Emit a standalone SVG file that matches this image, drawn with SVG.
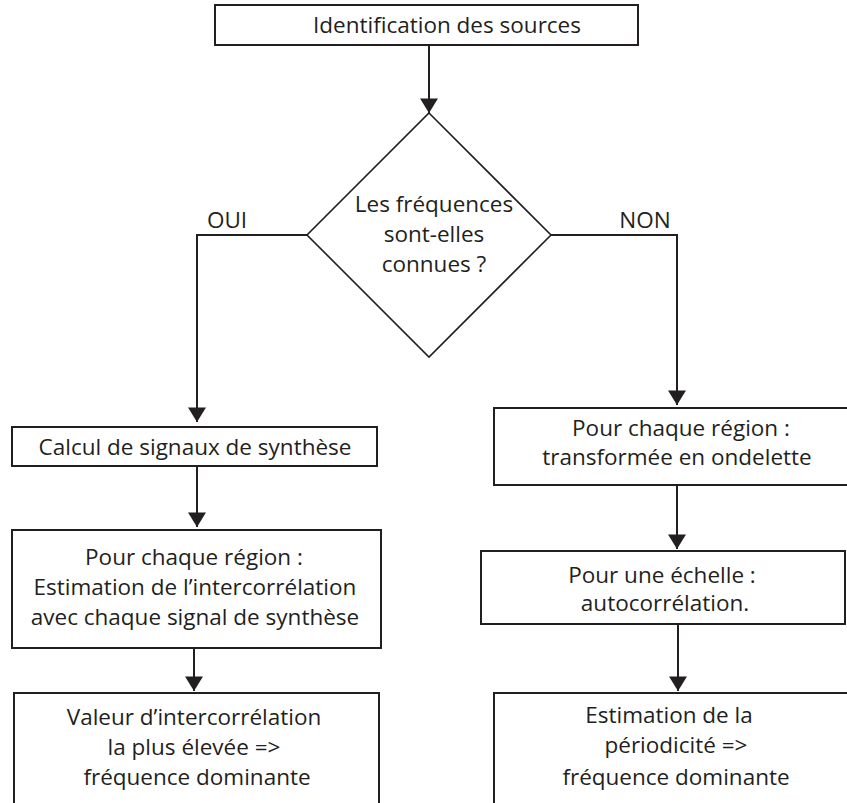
<svg xmlns="http://www.w3.org/2000/svg" width="847" height="803" viewBox="0 0 847 803">
<style>
.box{fill:#fff;stroke:#231f20;stroke-width:2}
.dia{fill:#fff;stroke:#231f20;stroke-width:1.6}
.c{fill:none;stroke:#231f20;stroke-width:2}
text{font-family:"Open Sans","Noto Sans",sans-serif;font-size:22.5px;fill:#231f20;text-anchor:middle}
</style>
<defs>
<marker id="ah" markerUnits="userSpaceOnUse" markerWidth="22" markerHeight="18" viewBox="0 0 17 21" refX="17" refY="10.5" orient="auto">
<path d="M0,0 L17,10.5 L0,21 Z" fill="#231f20"/>
</marker>
</defs>
<g id="connectors">
<line class="c" x1="429" y1="45" x2="429" y2="113" marker-end="url(#ah)"/>
<polyline class="c" points="307,235 197,235 197,422" marker-end="url(#ah)"/>
<polyline class="c" points="551,235 677,235 677,405" marker-end="url(#ah)"/>
<line class="c" x1="197" y1="466" x2="197" y2="527" marker-end="url(#ah)"/>
<line class="c" x1="194" y1="648" x2="194" y2="691" marker-end="url(#ah)"/>
<line class="c" x1="677" y1="485" x2="677" y2="549" marker-end="url(#ah)"/>
<line class="c" x1="678" y1="624" x2="678" y2="691" marker-end="url(#ah)"/>
<text x="227" y="228">OUI</text>
<text x="645" y="228">NON</text>
</g>
<g id="n-identification">
<rect class="box" x="215" y="5" width="423" height="40"/>
<text x="447" y="33">Identification des sources</text>
</g>
<g id="n-decision">
<polygon class="dia" points="429,113 551,235 429,357 307,235"/>
<text x="434" y="212">Les fréquences</text>
<text x="434" y="242">sont-elles</text>
<text x="434" y="272">connues ?</text>
</g>
<g id="n-calcul">
<rect class="box" x="12" y="427" width="365" height="39"/>
<text x="195" y="455">Calcul de signaux de synthèse</text>
</g>
<g id="n-estimation-inter">
<rect class="box" x="12" y="530" width="369" height="118"/>
<text x="194" y="565">Pour chaque région :</text>
<text x="195" y="595">Estimation de l’intercorrélation</text>
<text x="195" y="625">avec chaque signal de synthèse</text>
</g>
<g id="n-valeur">
<rect class="box" x="14" y="693" width="365" height="130"/>
<text x="194" y="725">Valeur d’intercorrélation</text>
<text x="194" y="755">la plus élevée =&gt;</text>
<text x="197" y="785">fréquence dominante</text>
</g>
<g id="n-ondelette">
<rect class="box" x="494" y="408" width="366" height="77"/>
<text x="681" y="436">Pour chaque région :</text>
<text x="677" y="465">transformée en ondelette</text>
</g>
<g id="n-echelle">
<rect class="box" x="481" y="551" width="364" height="73"/>
<text x="662" y="583">Pour une échelle :</text>
<text x="665" y="611">autocorrélation.</text>
</g>
<g id="n-periodicite">
<rect class="box" x="494" y="693" width="366" height="130"/>
<text x="669" y="723">Estimation de la</text>
<text x="676" y="753">périodicité =&gt;</text>
<text x="676" y="785">fréquence dominante</text>
</g>
</svg>
